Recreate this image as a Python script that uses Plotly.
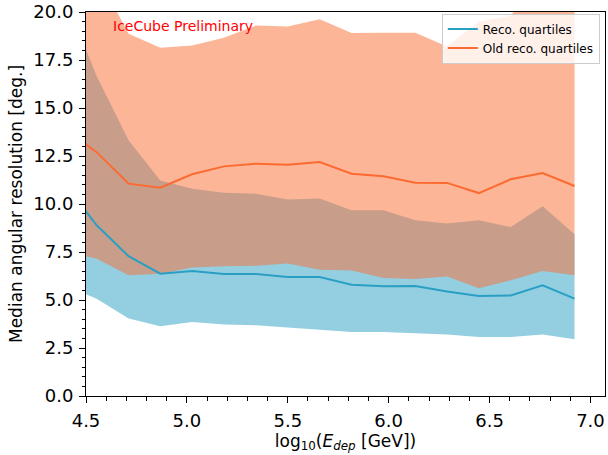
import plotly.graph_objects as go

# log10(E_dep) bin centres
x_vals = [4.395, 4.553, 4.711, 4.868, 5.026, 5.184, 5.342, 5.500, 5.658,
          5.816, 5.974, 6.132, 6.289, 6.447, 6.605, 6.763, 6.921]

# New reconstruction quartiles [deg.]
reco_q25 = [5.76, 5.07, 4.03, 3.63, 3.85, 3.73, 3.68, 3.56, 3.46,
            3.33, 3.33, 3.25, 3.20, 3.07, 3.07, 3.20, 2.95]
reco_med = [11.07, 8.89, 7.28, 6.37, 6.51, 6.36, 6.36, 6.20, 6.20,
            5.80, 5.71, 5.73, 5.44, 5.21, 5.24, 5.77, 5.07]
reco_q75 = [20.8, 16.65, 13.32, 11.23, 10.80, 10.59, 10.54, 10.24, 10.28,
            9.67, 9.67, 9.15, 8.98, 9.15, 8.80, 9.88, 8.42]

# Old reconstruction quartiles [deg.]
old_q25 = [7.54, 7.15, 6.29, 6.37, 6.69, 6.76, 6.78, 6.90, 6.58,
           6.53, 6.15, 6.10, 6.22, 5.61, 6.03, 6.51, 6.29]
old_med = [13.9, 12.7, 11.06, 10.85, 11.55, 11.96, 12.10, 12.05, 12.19,
           11.58, 11.44, 11.11, 11.10, 10.57, 11.29, 11.61, 10.94]
old_q75 = [24.0, 22.0, 18.87, 18.14, 18.26, 18.66, 19.30, 19.25, 19.62,
           18.90, 18.92, 18.92, 18.20, 19.50, 19.80, 22.0, 20.3]

BLUE = "#2a9fc4"
ORANGE = "#fb6b31"
BLUE_FILL = "rgba(42,159,196,0.5)"
ORANGE_FILL = "rgba(251,107,49,0.5)"
FONT = "DejaVu Sans"

fig = go.Figure()

# blue band
fig.add_trace(go.Scatter(x=x_vals, y=reco_q25, mode="lines", line=dict(width=0),
                         showlegend=False, hoverinfo="skip"))
fig.add_trace(go.Scatter(x=x_vals, y=reco_q75, mode="lines", line=dict(width=0),
                         fill="tonexty", fillcolor=BLUE_FILL,
                         showlegend=False, hoverinfo="skip"))
# orange band
fig.add_trace(go.Scatter(x=x_vals, y=old_q25, mode="lines", line=dict(width=0),
                         showlegend=False, hoverinfo="skip"))
fig.add_trace(go.Scatter(x=x_vals, y=old_q75, mode="lines", line=dict(width=0),
                         fill="tonexty", fillcolor=ORANGE_FILL,
                         showlegend=False, hoverinfo="skip"))
# medians
fig.add_trace(go.Scatter(x=x_vals, y=reco_med, mode="lines",
                         line=dict(color=BLUE, width=2), name="Reco. quartiles"))
fig.add_trace(go.Scatter(x=x_vals, y=old_med, mode="lines",
                         line=dict(color=ORANGE, width=2), name="Old reco. quartiles"))

fig.add_annotation(text="IceCube Preliminary", xref="paper", yref="paper",
                   x=0.048, y=0.963, xanchor="left", yanchor="middle",
                   showarrow=False, font=dict(family=FONT, size=14, color="red"))

axis_common = dict(
    showgrid=False, zeroline=False, showline=True, linecolor="black", linewidth=1,
    mirror=True, ticks="outside", ticklen=6, tickwidth=1, tickcolor="black",
    tickfont=dict(family=FONT, size=18, color="black"), automargin=False,
    ticklabeloverflow="allow",
)

fig.update_xaxes(
    range=[4.5, 7.072], tickvals=[4.5, 5.0, 5.5, 6.0, 6.5, 7.0],
    ticktext=["4.5", "5.0", "5.5", "6.0", "6.5", "7.0"],
    ticklabelstandoff=2,
    minor=dict(dtick=0.1, tick0=4.5, ticks="outside", ticklen=3.5, tickcolor="black", tickwidth=1),
    title=dict(text="log<sub>10</sub>(<i>E<sub>dep</sub></i> [GeV])",
               font=dict(family=FONT, size=17, color="black"), standoff=4),
    **axis_common)
fig.update_yaxes(
    range=[0, 20], tickvals=[0, 2.5, 5, 7.5, 10, 12.5, 15, 17.5, 20],
    ticktext=["0.0", "2.5", "5.0", "7.5", "10.0", "12.5", "15.0", "17.5", "20.0"],
    ticklabelstandoff=2,
    minor=dict(dtick=0.5, tick0=0, ticks="outside", ticklen=3.5, tickcolor="black", tickwidth=1),
    title=dict(text="Median angular resolution [deg.]",
               font=dict(family=FONT, size=17, color="black"), standoff=6),
    **axis_common)

fig.update_layout(
    width=608, height=455,
    margin=dict(l=86, r=3, t=12, b=59),
    paper_bgcolor="white", plot_bgcolor="white",
    font=dict(family=FONT, color="black"),
    legend=dict(x=0.99, y=0.996, xanchor="right", yanchor="top",
                bgcolor="rgba(255,255,255,0.8)", bordercolor="#cccccc", borderwidth=1,
                font=dict(family=FONT, size=12, color="black"),
                itemwidth=30, tracegroupgap=0, traceorder="normal"),
)

fig.write_html("out.html", config={"displayModeBar": False},
               post_script="document.body.style.margin='0';document.body.style.padding='0';")
